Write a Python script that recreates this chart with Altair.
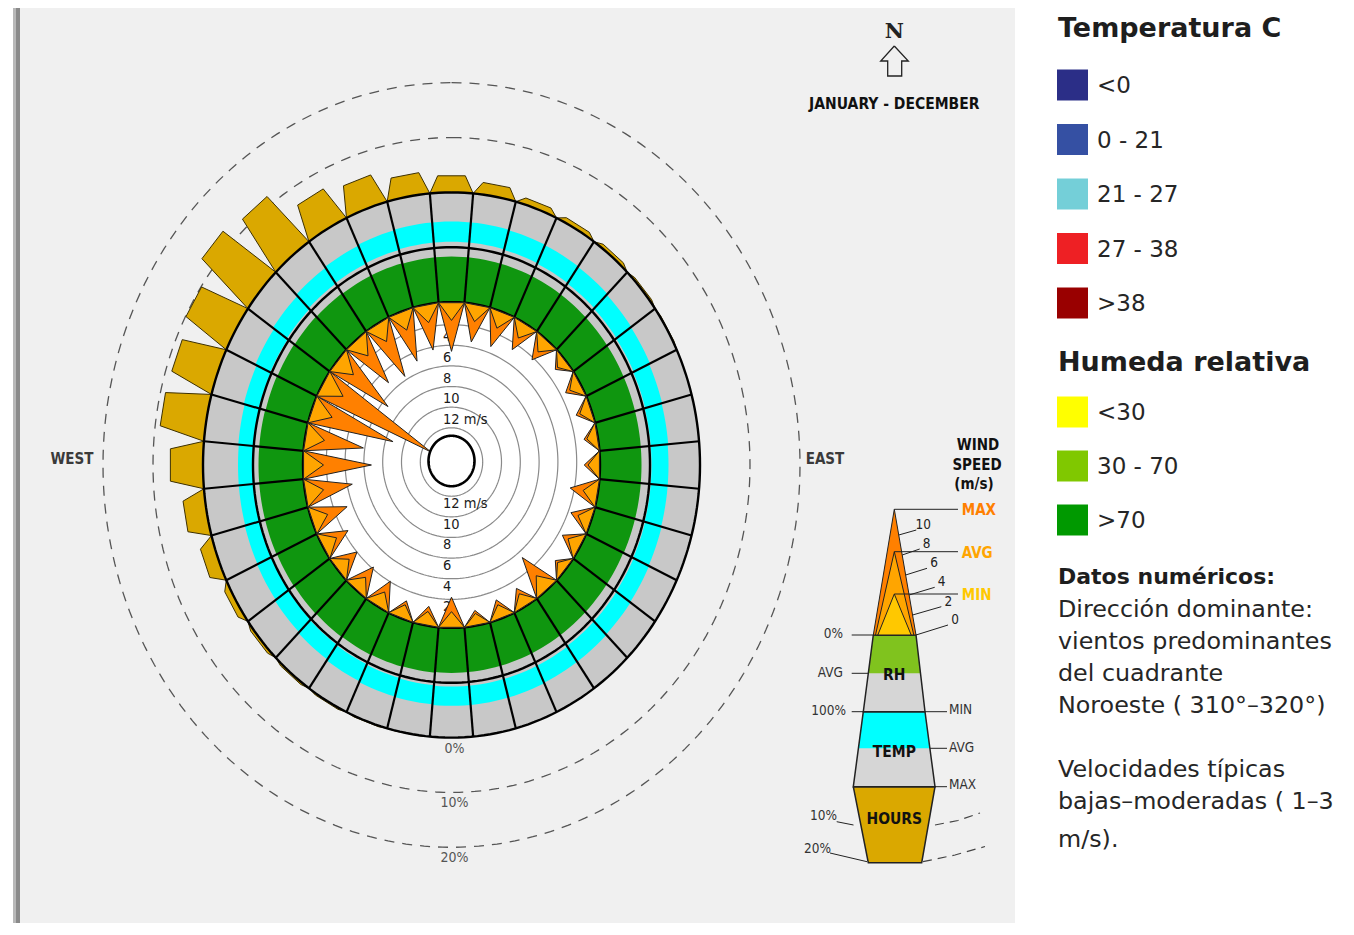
import math
import pandas as pd
import altair as alt

# ------------------------------------------------------------------ data
directions = list(range(0, 360, 10))          # sector centres, degrees clockwise from north
hours_pct = [3.1, 2.2, 1.2, 0.9, 0.7, 0.4, 0.2, 0.0, 0.0, 0.0, 0.0, 0.0,
             0.0, 0.0, 0.0, 0.0, 0.0, 0.0, 0.0, 0.1, 0.2, 0.3, 0.4, 0.6,
             1.2, 2.8, 4.4, 6.6, 9.0, 8.8, 9.9, 12.8, 11.6, 6.8, 5.6, 4.0]
wind_max = [4.3, 3.2, 3.1, 2.4, 2.0, 0.9, 1.3, 1.2, 1.0, 1.2, 2.5, 1.8,
            1.7, 0.9, 3.6, 1.5, 1.4, 1.0, 2.5, 1.4, 1.3, 2.3, 2.4, 2.2,
            2.6, 3.5, 4.6, 6.8, 5.8, 8.7, 12.8, 6.5, 4.9, 5.4, 4.6, 4.0]
wind_avg = [1.3, 1.2, 1.2, 1.1, 1.0, 0.6, 0.8, 0.8, 0.7, 0.8, 1.1, 1.0,
            1.0, 0.6, 1.3, 0.9, 0.9, 0.7, 1.1, 0.9, 0.9, 1.1, 1.1, 1.1,
            1.2, 1.3, 1.5, 1.7, 1.6, 1.8, 2.0, 1.7, 1.5, 1.5, 1.4, 1.3]
rh_avg = [83, 83, 83, 83, 83, 83, 83, 83, 83, 83, 83, 83,
          82, 82, 82, 82, 82, 82, 82, 83, 84, 85, 86, 87,
          88, 89, 89, 89, 89, 88, 87, 86, 85, 84, 84, 83]
# position of the 21-27 C band inside the MIN..MAX temperature ring (0 = MIN, 1 = MAX)
temp_band_lo = [.10, .10, .09, .08, .07, .06, .05, .04, .03, .03, .03, .04,
                .05, .06, .06, .07, .07, .07, .07, .06, .05, .04, .03, .02,
                .01, .00, .00, .00, .01, .02, .03, .05, .07, .08, .09, .10]
temp_band_hi = [.47, .47, .46, .45, .44, .42, .41, .39, .38, .37, .37, .38,
                .39, .40, .41, .41, .42, .42, .42, .41, .40, .38, .36, .34,
                .32, .31, .30, .30, .31, .33, .36, .39, .42, .44, .46, .47]

speed_ticks = [2, 4, 6, 8, 10, 12]
hour_rings = [10, 20]

temp_legend_title = "Temperatura C"
temp_legend_labels = ["<0", "0 - 21", "21 - 27", "27 - 38", ">38"]
temp_legend_colors = ["#2B2E87", "#3550A3", "#74CFD8", "#EE2024", "#990000"]
rh_legend_title = "Humeda relativa"
rh_legend_labels = ["<30", "30 - 70", ">70"]
rh_legend_colors = ["#FFFF00", "#80C800", "#009900"]
notes_title = "Datos numéricos:"
notes_lines = ["Dirección dominante:", "vientos predominantes", "del cuadrante",
               "Noroeste ( 310°–320°)", "", "Velocidades típicas",
               "bajas–moderadas ( 1–3", "m/s)."]

key_speed_ticks = [10, 8, 6, 4, 2, 0]

# ------------------------------------------------------------------ geometry & style
CX, CY, KY = 451.5, 465.0, 1.097
CY_S = 462.0
R_RH0, R_RH100, R_TMAX = 148.5, 198.5, 248.5
PCT_UNIT = 5.0
S0, S_STEP = 144.0, 9.4
HALF = 5.0
FONT_C = "DejaVu Sans Condensed, Liberation Sans Narrow, DejaVu Sans, sans-serif"
FONT_L = "DejaVu Sans, sans-serif"

XS = alt.Scale(domain=[8, 1344], range=[0, 1336], zero=False, nice=False)
YS = alt.Scale(domain=[8, 923], range=[0, 915], zero=False, nice=False)
X = alt.X("x:Q", scale=XS, axis=None)
Y = alt.Y("y:Q", scale=YS, axis=None)


def pt(r, deg, cy=CY):
    a = math.radians(deg)
    return CX + r * math.sin(a), cy - KY * r * math.cos(a)


def speed_r(s):
    return S0 - S_STEP * s


def annulus_pts(r0, r1, a0, a1, n=6):
    outer = [pt(r1, a0 + (a1 - a0) * j / n) for j in range(n + 1)]
    inner = [pt(r0, a1 - (a1 - a0) * j / n) for j in range(n + 1)]
    p = outer + inner
    return p + [p[0]]


def ellipse_pts(r, cy=CY, n=240):
    return [pt(r, 360.0 * j / n, cy) for j in range(n + 1)]


def poly_df(polys):
    rows = []
    for pid, pts in enumerate(polys):
        for i, (x, y) in enumerate(pts):
            rows.append({"pid": pid, "i": i, "x": x, "y": y})
    return pd.DataFrame(rows)


def poly_layer(polys, **mark):
    return alt.Chart(poly_df(polys)).mark_line(**mark).encode(
        x=X, y=Y, detail="pid:N", order=alt.Order("i:Q"))


def seg_layer(segs, **mark):
    df = pd.DataFrame([{"x": a[0], "y": a[1], "x2": b[0], "y2": b[1]} for a, b in segs])
    return alt.Chart(df).mark_rule(**mark).encode(x=X, y=Y, x2="x2:Q", y2="y2:Q")


def text_layer(items, **mark):
    df = pd.DataFrame([{"x": x, "y": y, "t": t} for t, x, y in items])
    return alt.Chart(df).mark_text(**mark).encode(x=X, y=Y, text="t:N")


def rect_layer(items):
    df = pd.DataFrame([{"x": a, "x2": b, "y": c, "y2": d, "c": col} for a, b, c, d, col in items])
    return alt.Chart(df).mark_rect().encode(
        x=X, y=Y, x2="x2:Q", y2="y2:Q", color=alt.Color("c:N", scale=None))


layers = []

# panel + left border
layers.append(rect_layer([(20, 1015, 8, 923, "#F0F0F0"),
                          (13, 16, 8, 923, "#B8B8B8"),
                          (16, 20, 8, 923, "#8A8A8A")]))

# dashed hour rings (10 %, 20 %)
layers.append(poly_layer([ellipse_pts(R_TMAX + PCT_UNIT * p) for p in hour_rings],
                         stroke="#555555", strokeWidth=1.3, strokeDash=[10, 8]))

# hours bars
bars = []
for d, p in zip(directions, hours_pct):
    if p <= 0:
        continue
    r1 = R_TMAX + PCT_UNIT * p
    q = [pt(R_TMAX, d - HALF), pt(r1, d - 3.0), pt(r1, d + 3.0), pt(R_TMAX, d + HALF)]
    bars.append(q + [q[0]])
layers.append(poly_layer(bars, fill="#DAA800", stroke="#3d3000", strokeWidth=1))

# white speed disc
layers.append(poly_layer([ellipse_pts(R_RH0)], fill="white", strokeOpacity=0))

# grey sector cells, temperature band, humidity band
layers.append(poly_layer([annulus_pts(R_RH0, R_TMAX, d - HALF, d + HALF) for d in directions],
                         fill="#C8C8C8", strokeOpacity=0))
layers.append(poly_layer([annulus_pts(R_RH100 + 50 * lo, R_RH100 + 50 * hi, d - HALF, d + HALF)
                          for d, lo, hi in zip(directions, temp_band_lo, temp_band_hi)],
                         fill="#00FFFF", strokeOpacity=0))
layers.append(poly_layer([annulus_pts(R_RH0, R_RH0 + 50 * h / 100.0, d - HALF, d + HALF)
                          for d, h in zip(directions, rh_avg)],
                         fill="#0F960F", strokeOpacity=0))

# speed circles and labels
layers.append(poly_layer([ellipse_pts(speed_r(s), CY_S) for s in speed_ticks],
                         stroke="#8A8A8A", strokeWidth=1.2))
lab_top, lab_bot = [], []
for s in speed_ticks:
    t = "12 m/s" if s == 12 else str(s)
    ry = KY * speed_r(s)
    lab_top.append((t, CX - 8.5, CY_S - ry - 1))
    lab_bot.append((t, CX - 8.5, CY_S + ry + 1))
layers.append(text_layer(lab_top, align="left", baseline="bottom", font=FONT_C,
                         fontSize=14.5, color="#1a1a1a"))
layers.append(text_layer(lab_bot, align="left", baseline="top", font=FONT_C,
                         fontSize=14.5, color="#1a1a1a"))

# black ring outlines and sector dividers
layers.append(poly_layer([ellipse_pts(r) for r in (R_RH0, R_RH100, R_TMAX)],
                         stroke="black", strokeWidth=2.4))
layers.append(seg_layer([(pt(R_RH0, d + HALF), pt(R_TMAX, d + HALF)) for d in directions],
                        color="black", strokeWidth=2.2))

# wind spikes (max, avg)
def spikes(vals):
    out = []
    for d, v in zip(directions, vals):
        q = [pt(R_RH0, d - HALF), pt(speed_r(v), d), pt(R_RH0, d + HALF)]
        out.append(q + [q[0]])
    return out

layers.append(poly_layer(spikes(wind_max), fill="#FF8000", stroke="#222222", strokeWidth=1))
layers.append(poly_layer(spikes(wind_avg), fill="#FFA500", stroke="#222222", strokeWidth=1))

# centre circle
layers.append(poly_layer([ellipse_pts(23, CY_S - 1)], fill="white", stroke="black", strokeWidth=2.6))

# wheel texts
layers.append(text_layer([("WEST", 72, CY - 6), ("EAST", 825, CY - 6)], font=FONT_C,
                         fontSize=15, fontWeight="bold", color="#3a3a3a"))
layers.append(text_layer([(f"{p}%", CX + 3, CY + KY * (R_TMAX + PCT_UNIT * p) + 11)
                          for p in [0] + hour_rings],
                         font=FONT_C, fontSize=14, color="#555555"))
layers.append(text_layer([("JANUARY - DECEMBER", 894.3, 104)], font=FONT_C,
                         fontSize=15.5, fontWeight="bold", color="#111111"))
layers.append(text_layer([("N", 894.3, 32)], font="DejaVu Serif, serif", fontSize=21,
                         fontWeight="bold", color="#222222"))
arrow = [(894.3, 46), (908.3, 61), (901.7, 61), (901.7, 76), (887.7, 76), (887.7, 61), (880.7, 61)]
layers.append(poly_layer([arrow + [arrow[0]]], stroke="#222222", strokeWidth=1.3))

# ------------------------------------------------------------------ key diagram
KX = 894.3
tri_max = [(KX, 509.3), (873.3, 635), (916, 635)]
tri_avg = [(KX, 551.7), (875.5, 635), (913.8, 635)]
tri_min = [(KX, 594), (877.8, 635), (911.2, 635)]
rh_blk = [(873.3, 635), (916, 635), (925, 711.7), (863.3, 711.7)]
rh_grn = [(873.3, 635), (916, 635), (920.5, 673.3), (868.3, 673.3)]
tp_blk = [(863.3, 711.7), (925, 711.7), (935, 786.7), (853.3, 786.7)]
tp_cyn = [(863.3, 711.7), (925, 711.7), (929.9, 748.3), (858.4, 748.3)]
hr_blk = [(853.3, 786.7), (935, 786.7), (921.7, 862.7), (868.3, 862.7)]


def closed(p):
    return p + [p[0]]


layers.append(poly_layer([closed(rh_blk), closed(tp_blk)], fill="#D6D6D6", strokeOpacity=0))
layers.append(poly_layer([closed(rh_grn)], fill="#80C31E", strokeOpacity=0))
layers.append(poly_layer([closed(tp_cyn)], fill="#00FFFF", strokeOpacity=0))
layers.append(poly_layer([closed(hr_blk)], fill="#DAA800", stroke="#222222", strokeWidth=1.5))
layers.append(poly_layer([closed(rh_blk), closed(tp_blk)], stroke="#222222", strokeWidth=1.5))
layers.append(poly_layer([closed(tri_max)], fill="#FF8000", stroke="#222222", strokeWidth=1))
layers.append(poly_layer([closed(tri_avg)], fill="#FFA500", stroke="#222222", strokeWidth=1))
layers.append(poly_layer([closed(tri_min)], fill="#FFC800", stroke="#222222", strokeWidth=1))

key_lines = [((KX, 509.3), (958, 509.3)), ((KX, 551.7), (958, 551.7)), ((KX, 594), (958, 594)),
             ((851.7, 635), (873.3, 635)), ((851.7, 673.3), (868.3, 673.3)),
             ((851.7, 711.7), (863.3, 711.7)), ((925, 711.7), (947, 711.7)),
             ((930, 748.3), (947, 748.3)), ((935, 786.7), (947, 786.7)),
             ((836.7, 821.7), (853.5, 825)), ((830, 853), (867, 861.7))]
key_lab_pos = [(923.3, 525), (926.7, 544), (934, 563.3), (941.7, 582.3), (948.3, 601.7), (955, 620)]
for v, (lx, ly) in zip(key_speed_ticks, key_lab_pos):
    ey = 635 - 10 * v
    ex = KX + 21.7 * (ey - 509.3) / 125.7
    key_lines.append(((ex, ey), (lx - 7, ly + 5)))
layers.append(seg_layer(key_lines, color="#222222", strokeWidth=1))
layers.append(poly_layer([[(935, 825), (958, 820.5), (980, 813)],
                          [(923, 861.7), (955, 855), (985, 846.5)]],
                         stroke="#444444", strokeWidth=1.2, strokeDash=[9, 6]))

layers.append(text_layer([("WIND", 978, 445), ("SPEED", 977, 465), ("(m/s)", 974, 483.5)],
                         font=FONT_C, fontSize=15, fontWeight="bold", color="#111111"))
layers.append(text_layer([("MAX", 961.7, 510)], align="left", font=FONT_C, fontSize=15,
                         fontWeight="bold", color="#FF7F00"))
layers.append(text_layer([("AVG", 961.7, 552.5)], align="left", font=FONT_C, fontSize=15,
                         fontWeight="bold", color="#FFA500"))
layers.append(text_layer([("MIN", 961.7, 595)], align="left", font=FONT_C, fontSize=15,
                         fontWeight="bold", color="#FFC800"))
layers.append(text_layer([(str(v), x, y) for v, (x, y) in zip(key_speed_ticks, key_lab_pos)],
                         font=FONT_C, fontSize=13.5, color="#222222"))
layers.append(text_layer([("0%", 843, 634), ("AVG", 843, 672.5), ("100%", 846, 710.5),
                          ("10%", 837, 816), ("20%", 831, 848.5)],
                         align="right", font=FONT_C, fontSize=13.5, color="#333333"))
layers.append(text_layer([("MIN", 949, 710), ("AVG", 949, 748), ("MAX", 949, 785)],
                         align="left", font=FONT_C, fontSize=13.5, color="#333333"))
layers.append(text_layer([("RH", KX, 675), ("TEMP", KX, 751.5), ("HOURS", KX, 818.5)],
                         font=FONT_C, fontSize=15.5, fontWeight="bold", color="#111111"))

# ------------------------------------------------------------------ right legend
layers.append(text_layer([(temp_legend_title, 1058, 29), (rh_legend_title, 1058, 363)],
                         align="left", font=FONT_L, fontSize=27, fontWeight="bold",
                         color="#1E1E1E"))
sq = []
lab = []
for i, (t, c) in enumerate(zip(temp_legend_labels, temp_legend_colors)):
    yc = 85 + 54.5 * i
    sq.append((1057, 1088, yc - 15.5, yc + 15.5, c))
    lab.append((t, 1097, yc + 1))
for i, (t, c) in enumerate(zip(rh_legend_labels, rh_legend_colors)):
    yc = 412 + 54 * i
    sq.append((1057, 1088, yc - 15.5, yc + 15.5, c))
    lab.append((t, 1097, yc + 1))
layers.append(rect_layer(sq))
layers.append(text_layer(lab, align="left", font=FONT_L, fontSize=23, color="#262626"))
layers.append(text_layer([(notes_title, 1058, 577)], align="left", font=FONT_L, fontSize=22,
                         fontWeight="bold", color="#1E1E1E"))
note_y = [610, 642, 674, 706, 738, 770, 802, 840]
layers.append(text_layer([(t, 1058, y) for t, y in zip(notes_lines, note_y) if t],
                         align="left", font=FONT_L, fontSize=23.8, color="#262626"))

chart = alt.layer(*layers).properties(
    width=1336, height=915, padding=0, autosize=alt.AutoSizeParams(type="none")
).configure_view(stroke=None)

chart.save("out.html", embed_options={"renderer": "svg", "actions": False})
